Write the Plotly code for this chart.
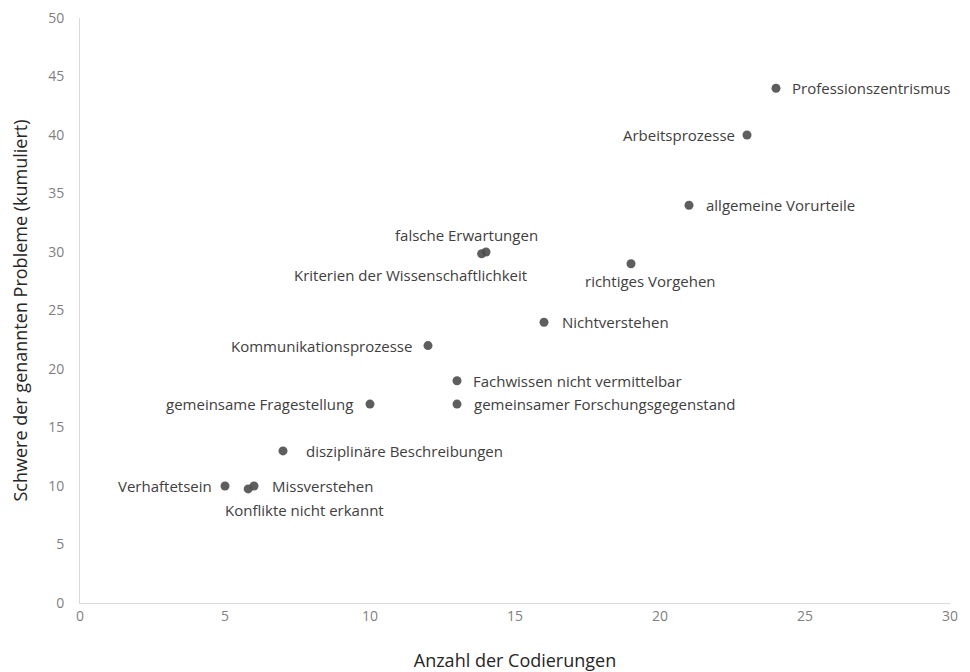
import plotly.graph_objects as go

labels = ["Professionszentrismus", "Arbeitsprozesse", "allgemeine Vorurteile", "richtiges Vorgehen",
          "falsche Erwartungen", "Kriterien der Wissenschaftlichkeit", "Nichtverstehen",
          "Kommunikationsprozesse", "Fachwissen nicht vermittelbar", "gemeinsamer Forschungsgegenstand",
          "gemeinsame Fragestellung", "disziplinäre Beschreibungen", "Verhaftetsein", "Missverstehen",
          "Konflikte nicht erkannt"]
anzahl = [24, 23, 21, 19, 14, 13.85, 16, 12, 13, 13, 10, 7, 5, 6, 5.8]
schwere = [44, 40, 34, 29, 30, 29.85, 24, 22, 19, 17, 17, 13, 10, 10, 9.75]
x_ticks = [0, 5, 10, 15, 20, 25, 30]
y_ticks = [0, 5, 10, 15, 20, 25, 30, 35, 40, 45, 50]

# label placement: (xanchor, xshift, yshift)
placement = [("left", 14, 0), ("right", -10, 0), ("left", 15, 0), ("center", 19, -17),
             ("center", -20, 17), ("center", -71, -21), ("left", 16, 0), ("right", -14, 0),
             ("left", 14, 0), ("left", 15, 0), ("right", -15, 0), ("left", 21, 0),
             ("right", -11, 0), ("left", 16, 0), ("center", 56, -21)]

fig = go.Figure(go.Scatter(
    x=anzahl, y=schwere, mode="markers",
    marker=dict(size=9, color="rgba(80,80,80,0.92)"),
    cliponaxis=False, showlegend=False, hoverinfo="text", text=labels,
))

for lab, xv, yv, (xa, xs, ys) in zip(labels, anzahl, schwere, placement):
    fig.add_annotation(x=xv, y=yv, text=lab, showarrow=False, xanchor=xa, yanchor="middle",
                       xshift=xs, yshift=ys,
                       font=dict(family="Open Sans", size=15, color="#404040"))

axis_common = dict(showgrid=False, zeroline=False, showline=True, linecolor="#d9d9d9", linewidth=1,
                   ticks="", automargin=False, ticklabeloverflow="allow",
                   tickfont=dict(family="Open Sans", size=14, color="#7f7f7f"))
fig.update_xaxes(range=[0, 30], tickvals=x_ticks,
                 title=dict(text="Anzahl der Codierungen", font=dict(family="Open Sans", size=18, color="#262626"), standoff=30),
                 **axis_common)
fig.update_yaxes(range=[0, 50], tickvals=y_ticks, ticklabelstandoff=12,
                 title=dict(text="Schwere der genannten Probleme (kumuliert)", font=dict(family="Open Sans", size=18, color="#262626"), standoff=24),
                 **axis_common)
fig.update_layout(width=962, height=664, margin=dict(l=72, r=20, t=10, b=69),
                  plot_bgcolor="white", paper_bgcolor="white")
fig.write_html("out.html")
